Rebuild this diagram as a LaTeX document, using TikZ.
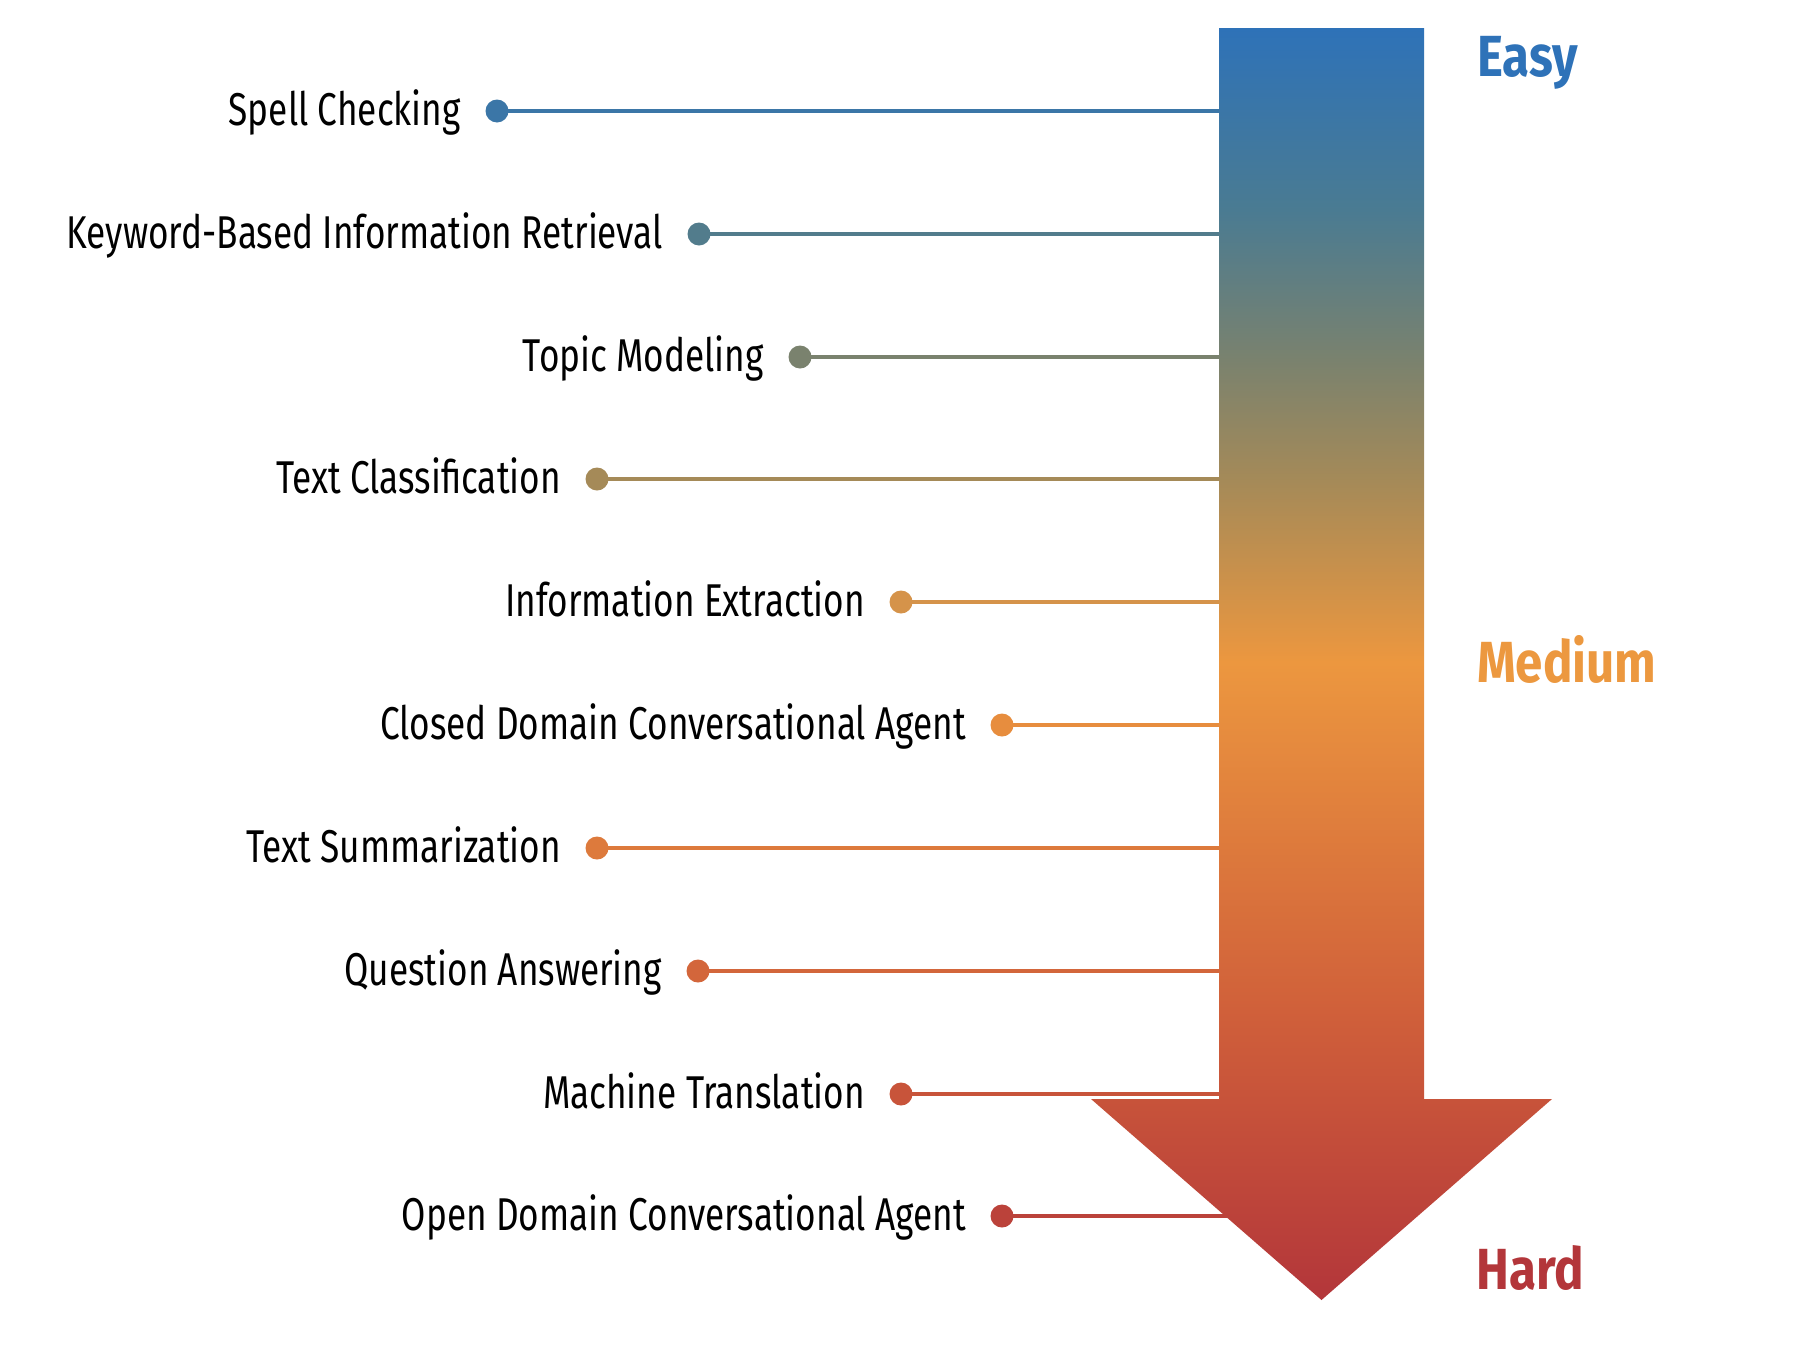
\documentclass[tikz,border=0pt]{standalone}
\usepackage{fontspec}
\newfontfamily\lblfont[FakeStretch=0.765]{Fira Sans}
\newfontfamily\bigfont[FakeStretch=0.85]{Fira Sans}
\definecolor{a1}{HTML}{2E72B8}
\definecolor{a2}{HTML}{4A7B92}
\definecolor{a3}{HTML}{7A826E}
\definecolor{a4}{HTML}{A58A58}
\definecolor{a5}{HTML}{EC973F}
\definecolor{a6}{HTML}{D0603A}
\definecolor{a7}{HTML}{B3363A}
\definecolor{l1}{HTML}{3B76A7}
\definecolor{l2}{HTML}{527C8C}
\definecolor{l3}{HTML}{7A826E}
\definecolor{l4}{HTML}{A58A58}
\definecolor{l5}{HTML}{D5934A}
\definecolor{l6}{HTML}{E78D3E}
\definecolor{l7}{HTML}{DD7A3C}
\definecolor{l8}{HTML}{D3663B}
\definecolor{l9}{HTML}{C8543A}
\definecolor{l10}{HTML}{BB423A}
\definecolor{easyc}{HTML}{2E72B8}
\definecolor{medc}{HTML}{EC983F}
\definecolor{hardc}{HTML}{B3363A}
\pgfdeclareverticalshading{arrowshade}{100bp}{color(0bp)=(a7); color(25bp)=(a7); color(36.4bp)=(a6); color(50.08bp)=(a5); color(57.2bp)=(a4); color(61.95bp)=(a3); color(67.85bp)=(a2); color(75bp)=(a1); color(100bp)=(a1)}
\begin{document}
\begin{tikzpicture}[x=1pt,y=-1pt,
  lbl/.style={anchor=base east, inner sep=0pt, font=\lblfont\fontsize{46}{50}\selectfont},
  dotnode/.style={circle, fill, inner sep=0pt, minimum size=23pt},
  conn/.style={line width=4pt},
  level/.style={anchor=base west, inner sep=0pt, font=\bigfont\bfseries\fontsize{58}{60}\selectfont}]
\useasboundingbox (0,0) rectangle (1804,1352);
\foreach \i/\x/\y/\t in {
  1/497/111/Spell Checking,
  2/699/234/Keyword-Based Information Retrieval,
  3/800/357/Topic Modeling,
  4/597/479/Text Classification,
  5/901/602/Information Extraction,
  6/1002/725/Closed Domain Conversational Agent,
  7/597/848/Text Summarization,
  8/698/971/Question Answering,
  9/901/1094/Machine Translation,
  10/1002/1216/Open Domain Conversational Agent} {
  \coordinate (p\i) at (\x,\y);
  \coordinate (s\i) at (1230,\y);
  \draw[conn, draw=l\i] (p\i) -- (s\i);
  \node[dotnode, fill=l\i] (d\i) at (p\i) {};
  \node[lbl] (t\i) at (\x-36,\y+14) {\t};
}
\shade[shading=arrowshade] (1219,28) -- (1424,28) -- (1424,1099) -- (1552,1099)
  -- (1321.5,1300) -- (1091,1099) -- (1219,1099) -- cycle;
\node[level, text=easyc] (easy) at (1477,76) {Easy};
\node[level, text=medc] (medium) at (1477,682) {Medium};
\node[level, text=hardc] (hard) at (1476,1289) {Hard};
\end{tikzpicture}
\end{document}
